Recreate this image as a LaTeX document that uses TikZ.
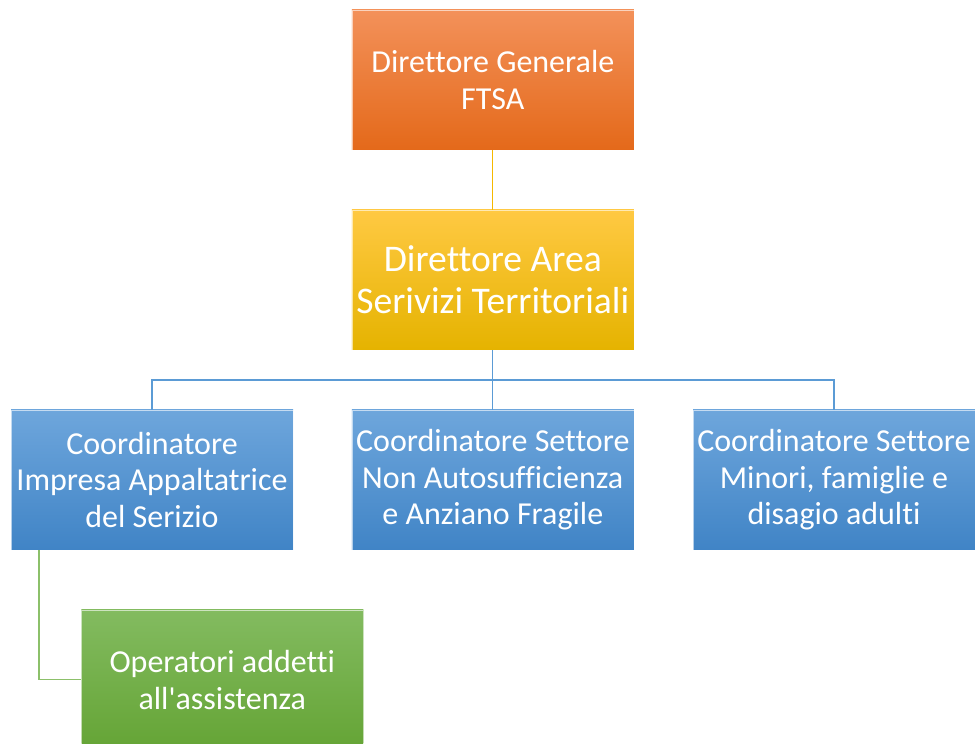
\documentclass[tikz,border=0pt]{standalone}
\usepackage{fontspec}
\setmainfont[Ligatures={NoCommon}]{Carlito}
\definecolor{orT}{HTML}{F3915A}
\definecolor{orB}{HTML}{E4691A}
\definecolor{yeT}{HTML}{FFC943}
\definecolor{yeB}{HTML}{E5B300}
\definecolor{blT}{HTML}{6EA6DC}
\definecolor{blB}{HTML}{4084C6}
\definecolor{grT}{HTML}{83BB60}
\definecolor{grB}{HTML}{63A333}
\definecolor{lnY}{HTML}{F5B800}
\definecolor{lnB}{HTML}{5B9BD5}
\definecolor{lnG}{HTML}{8CC06A}
\begin{document}
\begin{tikzpicture}[x=1pt,y=-1pt,
  box/.style={rectangle, anchor=north west, minimum width=282pt, minimum height=140pt,
    inner sep=0pt, align=center, text=white, draw=white, draw opacity=0.6, line width=0.6pt,
    font=\fontsize{32}{36.5}\selectfont},
  orbox/.style={box, top color=orT, bottom color=orB},
  yebox/.style={box, top color=yeT, bottom color=yeB, font=\fontsize{37.6}{42.5}\selectfont},
  blbox/.style={box, top color=blT, bottom color=blB},
  grbox/.style={box, top color=grT, bottom color=grB!95!grT},
  conn/.style={line width=1.3pt}
]
\useasboundingbox (0,0) rectangle (975,744);
\clip (0,0) rectangle (975,744);
\fill[white] (0,0) rectangle (975,744);

\node[orbox] (dg) at (351.5,9.5) {Direttore Generale\\FTSA};
\node[yebox] (da) at (351.5,209.5) {Direttore Area\\Serivizi Territoriali};
\node[blbox] (c1) at (10.7,409.5) {Coordinatore\\Impresa Appaltatrice\\del Serizio};
\node[blbox] (c2) at (351.5,409.5) {Coordinatore Settore\\Non Autosufficienza\\e Anziano Fragile};
\node[blbox] (c3) at (692.7,409.5) {Coordinatore Settore\\Minori, famiglie e\\disagio adulti};
\node[grbox] (op) at (81,609.5) {Operatori addetti\\all\textquotesingle assistenza};

\draw[conn, lnY] (dg.south) -- (da.north);
\draw[conn, lnB] (da.south) -- ++(0,29.8) coordinate (hub) -| (c1.north);
\draw[conn, lnB] (hub) -- (c2.north);
\draw[conn, lnB] (hub) -| (c3.north);
\draw[conn, lnG] ([xshift=28.3pt]c1.south west) |- (op.west);
\end{tikzpicture}
\end{document}
